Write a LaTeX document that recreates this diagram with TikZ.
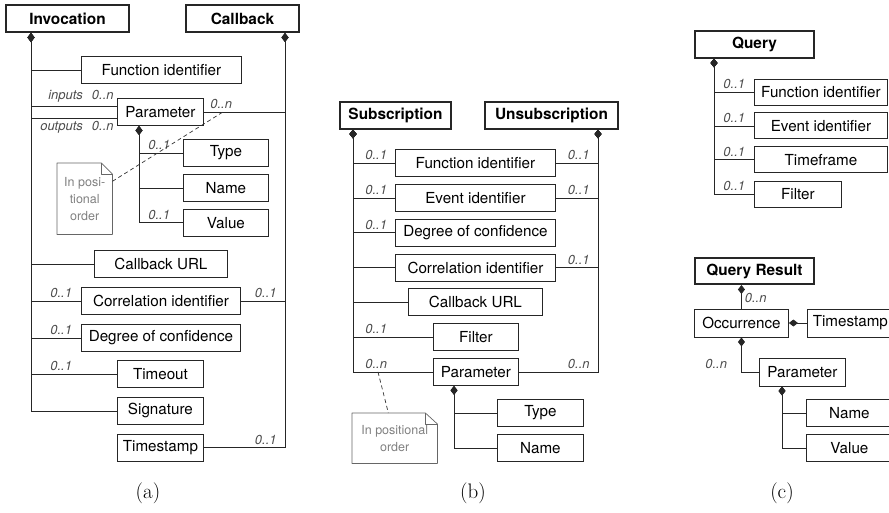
\documentclass[tikz,border=0pt]{standalone}
\usepackage{fontspec}
\setsansfont{TeX Gyre Heros}
\tikzstyle{elem}=[rectangle,draw=black!85,line width=0.9pt,minimum height=27pt,inner sep=2pt,
font=\sffamily\fontsize{15.2}{18}\selectfont]
\tikzstyle{root}=[elem,line width=2pt,font=\sffamily\bfseries\fontsize{15.4}{18}\selectfont]
\tikzstyle{mult}=[inner sep=3pt,text=black!70,font=\sffamily\itshape\fontsize{13}{15}\selectfont]
\tikzstyle{note}=[rectangle,align=center,inner sep=2pt,text=black!50,
font=\sffamily\fontsize{12.5}{17}\selectfont]
\tikzstyle{notebox}=[draw=black!60,line width=0.7pt,line join=round]
\tikzstyle{own}=[{Diamond[length=9pt,width=7pt]}-,draw=black!85,line width=0.8pt]
\tikzstyle{link}=[draw=black!85,line width=0.8pt]
\tikzstyle{hint}=[dashed,dash pattern=on 4pt off 3pt,draw=black!80,line width=0.7pt]
\tikzstyle{caption}=[font=\rmfamily\fontsize{21}{25}\selectfont]
\usetikzlibrary{arrows.meta,positioning}

\begin{document}
\begin{tikzpicture}[x=1pt,y=-1pt]
            \useasboundingbox (0,0) rectangle (889,512);
            \clip (0,0) rectangle (889,512);

            % INVOCATION / CALLBACK PART

            \node[root,minimum width=123pt,anchor=west] (inv) at (5,18.5) {Invocation};
            \node[root,minimum width=113pt,anchor=west] (cb) at (185,18.5) {Callback};
            \node[elem,minimum width=160pt,anchor=west] (fid) at (81,70) {Function identifier};
            \node[elem,minimum width=86pt,anchor=west] (par) at (117,112) {Parameter};
            \node[elem,minimum width=85pt,anchor=west] (typ) at (183,153) {Type};
            \node[elem,minimum width=85pt,below=7pt of typ] (nam) {Name};
            \node[elem,minimum width=85pt,below=7pt of nam] (val) {Value};
            \node[elem,minimum width=133pt,anchor=west] (cbu) at (94,264) {Callback URL};
            \node[elem,minimum width=159pt,anchor=west] (cor) at (81,301) {Correlation identifier};
            \node[elem,minimum width=159pt,below=9pt of cor] (doc) {Degree of confidence};
            \node[elem,minimum width=86pt,anchor=west] (tmo) at (117,374) {Timeout};
            \node[elem,minimum width=86pt,below=9pt of tmo] (sig) {Signature};
            \node[elem,minimum width=86pt,below=9pt of sig] (tst) {Timestamp};
            \node[note,minimum width=55pt,minimum height=71pt,anchor=north west] (na) at (57,163) {In posi-\\tional\\order};

            \coordinate (ia) at ([xshift=26pt]inv.south west);
            \coordinate (ca) at ([xshift=-15pt]cb.south east);
            \coordinate (pa) at ([xshift=22pt]par.south west);
            \coordinate (pin) at ([yshift=6pt]par.west);
            \coordinate (pout) at ([yshift=-6pt]par.west);
            \coordinate (pd) at ([xshift=19pt]par.east);

            \draw[own] (ia) |- (fid.west);
            \draw[own] (ia) |- (cbu.west);
            \draw[own] (ia) |- (cor.west) node[mult,pos=0.5,anchor=south west,xshift=16pt] {0..1};
            \draw[own] (ia) |- (doc.west) node[mult,pos=0.5,anchor=south west,xshift=16pt] {0..1};
            \draw[own] (ia) |- (tmo.west) node[mult,pos=0.5,anchor=south west,xshift=16pt] {0..1};
            \draw[own] (ia) |- (sig.west);
            \draw[link] (pin) -- (pin -| ia) node[mult,pos=0,anchor=south east] {inputs\hspace{9pt}0..n};
            \draw[link] (pout) -- (pout -| ia) node[mult,pos=0,anchor=north east] {outputs\hspace{9pt}0..n};

            \draw[own] (ca) |- (par.east) node[mult,pos=1,anchor=south west,xshift=3pt] {0..n};
            \draw[own] (ca) |- (cor.east) node[mult,pos=0.5,anchor=south east,xshift=-5pt] {0..1};
            \draw[own] (ca) |- (tst.east) node[mult,pos=0.5,anchor=south east,xshift=-5pt] {0..1};

            \draw[own] (pa) |- (typ.west) node[mult,pos=0.5,anchor=south west,xshift=6pt] {0..1};
            \draw[own] (pa) |- (nam.west);
            \draw[own] (pa) |- (val.west) node[mult,pos=0.5,anchor=south west,xshift=6pt] {0..1};

            \draw[notebox] (na.south west) -- (na.north west) -- ([xshift=-11pt]na.north east)
                -- ([yshift=-11pt]na.north east) -- (na.south east) -- cycle;
            \draw[notebox] ([xshift=-11pt]na.north east) -- ([xshift=-11pt,yshift=-11pt]na.north east)
                -- ([yshift=-11pt]na.north east);
            \draw[hint] (na) -- (pd);

            % SUBSCRIPTION / UNSUBSCRIPTION PART

            \node[root,minimum width=111pt,anchor=west] (sub) at (339,115) {Subscription};
            \node[root,minimum width=133pt,anchor=west] (uns) at (484,115) {Unsubscription};
            \node[elem,minimum width=160pt,anchor=west] (fid2) at (395,163) {Function identifier};
            \node[elem,minimum width=160pt,below=7pt of fid2] (eid2) {Event identifier};
            \node[elem,minimum width=160pt,below=7pt of eid2] (doc2) {Degree of confidence};
            \node[elem,minimum width=160pt,below=7pt of doc2] (cor2) {Correlation identifier};
            \node[elem,minimum width=134pt,anchor=west] (cbu2) at (408,302) {Callback URL};
            \node[elem,minimum width=85pt,anchor=west] (fil2) at (433,337) {Filter};
            \node[elem,minimum width=85pt,below=7pt of fil2] (par2) {Parameter};
            \node[elem,minimum width=86pt,anchor=west] (typ2) at (497,413) {Type};
            \node[elem,minimum width=86pt,below=7pt of typ2] (nam2) {Name};
            \node[note,minimum width=85pt,minimum height=50pt,anchor=north west] (nb) at (352,413) {In positional\\order};

            \coordinate (sa) at ([xshift=14pt]sub.south west);
            \coordinate (ua) at ([xshift=-21pt]uns.south east);
            \coordinate (pb) at ([xshift=21pt]par2.south west);
            \path (sa |- par2.west) ++(25pt,0pt) coordinate (pd2);

            \draw[own] (sa) |- (fid2.west) node[mult,pos=0.5,anchor=south west,xshift=9pt] {0..1};
            \draw[own] (sa) |- (eid2.west) node[mult,pos=0.5,anchor=south west,xshift=9pt] {0..1};
            \draw[own] (sa) |- (doc2.west) node[mult,pos=0.5,anchor=south west,xshift=9pt] {0..1};
            \draw[own] (sa) |- (cor2.west);
            \draw[own] (sa) |- (cbu2.west);
            \draw[own] (sa) |- (fil2.west) node[mult,pos=0.5,anchor=south west,xshift=9pt] {0..1};
            \draw[own] (sa) |- (par2.west) node[mult,pos=0.5,anchor=south west,xshift=9pt] {0..n};

            \draw[own] (ua) |- (fid2.east) node[mult,pos=0.5,anchor=south east,xshift=-5pt] {0..1};
            \draw[own] (ua) |- (eid2.east) node[mult,pos=0.5,anchor=south east,xshift=-5pt] {0..1};
            \draw[own] (ua) |- (cor2.east) node[mult,pos=0.5,anchor=south east,xshift=-5pt] {0..1};
            \draw[own] (ua) |- (par2.east) node[mult,pos=0.5,anchor=south east,xshift=-5pt] {0..n};

            \draw[own] (pb) |- (typ2.west);
            \draw[own] (pb) |- (nam2.west);

            \draw[notebox] (nb.south west) -- (nb.north west) -- ([xshift=-12pt]nb.north east)
                -- ([yshift=-11pt]nb.north east) -- (nb.south east) -- cycle;
            \draw[notebox] ([xshift=-12pt]nb.north east) -- ([xshift=-12pt,yshift=-11pt]nb.north east)
                -- ([yshift=-11pt]nb.north east);
            \draw[hint] (pd2) -- (nb);

            % QUERY PART

            \node[root,minimum width=119pt,anchor=west] (qry) at (694,44) {Query};
            \node[elem,minimum width=133pt,minimum height=26pt,anchor=west] (fid3) at (754,92) {Function identifier};
            \node[elem,minimum width=133pt,minimum height=26pt,below=7pt of fid3] (eid3) {Event identifier};
            \node[elem,minimum width=133pt,minimum height=26pt,below=7pt of eid3] (tim3) {Timeframe};
            \node[elem,minimum width=87pt,minimum height=26pt,anchor=west] (fil3) at (754,194) {Filter};

            \coordinate (qa) at ([xshift=20pt]qry.south west);

            \draw[own] (qa) |- (fid3.west) node[mult,pos=0.5,anchor=south west,xshift=6pt] {0..1};
            \draw[own] (qa) |- (eid3.west) node[mult,pos=0.5,anchor=south west,xshift=6pt] {0..1};
            \draw[own] (qa) |- (tim3.west) node[mult,pos=0.5,anchor=south west,xshift=6pt] {0..1};
            \draw[own] (qa) |- (fil3.west) node[mult,pos=0.5,anchor=south west,xshift=6pt] {0..1};

            % QUERY RESULT PART

            \node[root,minimum width=119pt,minimum height=26pt,anchor=west] (qres) at (694,271) {Query Result};
            \node[elem,minimum width=94pt,minimum height=28pt,anchor=west] (occ) at (694,323) {Occurrence};
            \node[elem,minimum width=86pt,minimum height=28pt,right=18pt of occ] (tst3) {Timestamp};
            \node[elem,minimum width=86pt,minimum height=28pt,anchor=west] (par3) at (759,372) {Parameter};
            \node[elem,minimum width=86pt,anchor=west] (nam3) at (806,413) {Name};
            \node[elem,minimum width=86pt,below=7pt of nam3] (val3) {Value};

            \coordinate (pc) at ([xshift=23pt]par3.south west);

            \draw[own] (occ.north |- qres.south) -- (occ.north) node[mult,pos=1,anchor=south west,yshift=2pt] {0..n};
            \draw[own] (occ.east) -- (tst3.west);
            \draw[own] (occ.south) |- (par3.west) node[mult,pos=0.5,anchor=south east,xshift=-11pt] {0..n};
            \draw[own] (pc) |- (nam3.west);
            \draw[own] (pc) |- (val3.west);

            % CAPTIONS

            \node[caption] (capa) at (148,493) {(a)};
            \node[caption] (capb) at (473,493) {(b)};
            \node[caption] (capc) at (782,493) {(c)};

\end{tikzpicture}
\end{document}
